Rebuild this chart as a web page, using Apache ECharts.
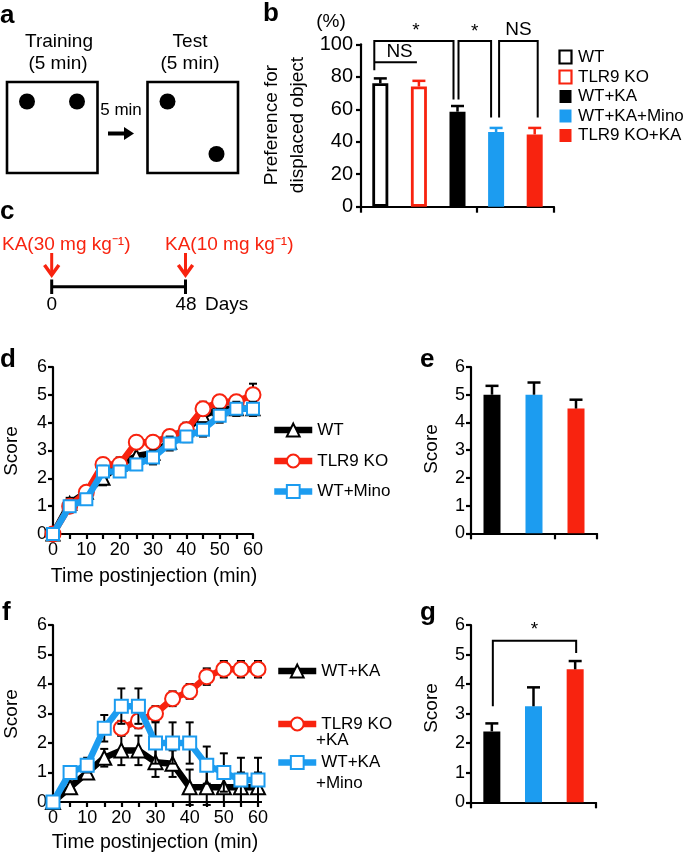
<!DOCTYPE html>
<html><head><meta charset="utf-8">
<script src="https://cdn.jsdelivr.net/npm/echarts@6/dist/echarts.min.js"></script>
<style>html,body{margin:0;padding:0;background:#fff}#c{width:685px;height:858px}</style>
</head><body><div id="c"></div>
<script>
const FONT = '"Liberation Sans", Arial, Helvetica, sans-serif';
const RED = '#f8230f', BLUE = '#1c9cf0', BLACK = '#000000';

// ---- Panel b
const bCategories = ['WT', 'TLR9 KO', 'WT+KA', 'WT+KA+Mino', 'TLR9 KO+KA'];
const bValues = [76, 74, 58.5, 46, 44.5];
const bErrors = [3, 3.5, 3.5, 2.5, 4];
const bTicks = [0, 20, 40, 60, 80, 100];

// ---- Panels d & f (time course)
const time = [0, 5, 10, 15, 20, 25, 30, 35, 40, 45, 50, 55, 60];
const timeTicks = [0, 10, 20, 30, 40, 50, 60];
const scoreTicks = [0, 1, 2, 3, 4, 5, 6];

const dWT = [0, 1.1, 1.5, 2.0, 2.5, 2.8, 2.9, 3.3, 3.75, 4.25, 4.5, 4.5, 4.5];
const dWTErr = [0, 0.2, 0.2, 0.25, 0.25, 0.25, 0.25, 0.25, 0.25, 0.3, 0.25, 0.25, 0.25];
const dKO = [0, 1.0, 1.5, 2.5, 2.5, 3.3, 3.3, 3.5, 3.75, 4.5, 4.75, 4.75, 5.0];
const dKOErr = [0, 0.2, 0.2, 0.2, 0.2, 0.2, 0.2, 0.2, 0.2, 0.25, 0.2, 0.2, 0.4];
const dMino = [0, 1.0, 1.25, 2.25, 2.25, 2.5, 2.75, 3.25, 3.5, 3.75, 4.25, 4.5, 4.5];
const dMinoErr = [0, 0.15, 0.15, 0.2, 0.2, 0.2, 0.25, 0.25, 0.2, 0.25, 0.25, 0.25, 0.25];

const fWTKA = [0, 0.5, 1.0, 1.5, 1.75, 1.75, 1.35, 1.3, 0.5, 0.5, 0.5, 0.5, 0.5];
const fWTKAErr = [0, 0.2, 0.2, 0.3, 0.5, 0.5, 0.5, 0.45, 0.6, 0.6, 0.5, 0.5, 0.5];
const fKOKA = [null, null, null, null, 2.5, 2.75, 3.0, 3.5, 3.75, 4.25, 4.5, 4.5, 4.5];
const fKOKAErr = [null, null, null, null, 0.25, 0.25, 0.25, 0.25, 0.25, 0.28, 0.28, 0.28, 0.28];
const fMino = [0, 1.0, 1.25, 2.5, 3.25, 3.25, 2.0, 2.0, 2.0, 1.25, 1.0, 0.75, 0.75];
const fMinoErr = [0, 0.2, 0.25, 0.45, 0.6, 0.6, 0.7, 0.7, 0.7, 0.63, 0.65, 0.75, 0.75];

// ---- Panel e
const eCategories = ['WT', 'WT+Mino', 'TLR9 KO'];
const eValues = [5.0, 5.0, 4.5];
const eErrors = [0.32, 0.44, 0.32];

// ---- Panel g
const gCategories = ['WT+KA', 'WT+KA+Mino', 'TLR9 KO+KA'];
const gValues = [2.4, 3.25, 4.5];
const gErrors = [0.27, 0.64, 0.28];

const chart = echarts.init(document.getElementById('c'), null, {renderer: 'canvas'});

function valAxis(gridIndex, ticks, fontSize, margin) {
  return {
    type: 'value', gridIndex: gridIndex,
    min: ticks[0], max: ticks[ticks.length - 1], interval: ticks[1] - ticks[0],
    axisLine: {show: true, onZero: false, lineStyle: {color: '#000', width: 2.2}},
    axisTick: {show: true, inside: false, length: 5, lineStyle: {color: '#000', width: 2.2}},
    axisLabel: {color: '#000', fontSize: fontSize, fontFamily: FONT, margin: margin},
    splitLine: {show: false}
  };
}
function timeAxis(gridIndex) {
  return {
    type: 'value', gridIndex: gridIndex,
    min: time[0], max: time[time.length - 1], interval: time[1] - time[0],
    axisLine: {show: true, onZero: false, lineStyle: {color: '#000', width: 2.2}},
    axisTick: {show: true, inside: false, length: 5, lineStyle: {color: '#000', width: 2.2}},
    axisLabel: {color: '#000', fontSize: 18, fontFamily: FONT, margin: 7,
      formatter: v => (timeTicks.indexOf(v) >= 0 ? String(v) : '')},
    splitLine: {show: false}
  };
}
function catAxis(gridIndex, cats) {
  return {
    type: 'category', gridIndex: gridIndex, data: cats,
    axisLine: {show: true, lineStyle: {color: '#000', width: 2.2}},
    axisTick: {show: true, inside: false, length: 6, alignWithLabel: false, lineStyle: {color: '#000', width: 2.2}},
    axisLabel: {show: false}, splitLine: {show: false}
  };
}

function errRender(colorFn, capW, lw, both) {
  return function (params, api) {
    const x = api.value(0), y = api.value(1), e = api.value(2);
    if (y == null || isNaN(y) || !e) return null;
    const top = api.coord([x, y + e]);
    const bot = both ? api.coord([x, y - e]) : api.coord([x, y]);
    const color = colorFn(params.dataIndex);
    const st = {stroke: color, lineWidth: lw};
    const ch = [
      {type: 'line', shape: {x1: top[0], y1: top[1], x2: bot[0], y2: bot[1]}, style: st},
      {type: 'line', shape: {x1: top[0] - capW / 2, y1: top[1], x2: top[0] + capW / 2, y2: top[1]}, style: st}
    ];
    if (both) ch.push({type: 'line', shape: {x1: bot[0] - capW / 2, y1: bot[1], x2: bot[0] + capW / 2, y2: bot[1]}, style: st});
    return {type: 'group', children: ch};
  };
}
function errData(xs, vals, errs) {
  return vals.map((v, i) => [xs[i], v, errs[i]]);
}
function lineSeries(name, gi, vals, color, symbol, size, z) {
  return {
    name: name, type: 'line', xAxisIndex: gi, yAxisIndex: gi,
    data: vals.map((v, i) => [time[i], v]),
    symbol: symbol, symbolSize: size, showSymbol: true, z: z,
    lineStyle: {color: color, width: 6.5},
    itemStyle: {color: '#fff', borderColor: color, borderWidth: 2, opacity: 1},
    connectNulls: false, clip: false, emphasis: {disabled: true}
  };
}
function errSeries(gi, vals, errs, color, z) {
  return {
    type: 'custom', xAxisIndex: gi, yAxisIndex: gi, z: z,
    data: errData(time, vals, errs),
    renderItem: errRender(() => color, 8, 2, true), silent: true
  };
}

const bStyles = [
  {color: '#fff', borderColor: BLACK, borderWidth: 2.8},
  {color: '#fff', borderColor: RED, borderWidth: 2.8},
  {color: BLACK},
  {color: BLUE},
  {color: RED}
];
const bErrColors = [BLACK, RED, BLACK, BLUE, RED];
const eColors = [BLACK, BLUE, RED];

function legend(name, left, cy, shownText) {
  return {
    data: [name], orient: 'vertical', left: left, top: cy - 8,
    itemWidth: 38, itemHeight: 16, selectedMode: false, padding: 0,
    formatter: () => shownText,
    lineStyle: {width: 6.5},
    textStyle: {color: '#000', fontSize: 17, fontFamily: FONT, lineHeight: 16}
  };
}

const T = (text, x, y, size, extra) => Object.assign({type: 'text', x: x, y: y,
  style: {text: text, font: size + 'px ' + FONT, fill: '#000', align: 'center', verticalAlign: 'middle'}}, extra || {});

const staticGraphics = [
  // panel labels
  {type: 'text', x: 0, y: 3, style: {text: 'a', font: 'bold 26px ' + FONT, fill: '#000'}},
  {type: 'text', x: 263, y: 1, style: {text: 'b', font: 'bold 26px ' + FONT, fill: '#000'}},
  {type: 'text', x: 0, y: 199, style: {text: 'c', font: 'bold 26px ' + FONT, fill: '#000'}},
  {type: 'text', x: 0, y: 347, style: {text: 'd', font: 'bold 26px ' + FONT, fill: '#000'}},
  {type: 'text', x: 420, y: 347, style: {text: 'e', font: 'bold 26px ' + FONT, fill: '#000'}},
  {type: 'text', x: 2, y: 600, style: {text: 'f', font: 'bold 26px ' + FONT, fill: '#000'}},
  {type: 'text', x: 420, y: 600, style: {text: 'g', font: 'bold 26px ' + FONT, fill: '#000'}},
  // panel a
  T('Training', 59, 42, 19), T('(5 min)', 58, 64, 19), T('Test', 190, 42, 19), T('(5 min)', 190, 64, 19),
  {type: 'rect', shape: {x: 7, y: 82, width: 90.5, height: 91}, style: {fill: 'none', stroke: '#000', lineWidth: 2.6}},
  {type: 'rect', shape: {x: 147.5, y: 82, width: 90.5, height: 91}, style: {fill: 'none', stroke: '#000', lineWidth: 2.6}},
  {type: 'circle', shape: {cx: 27, cy: 101.5, r: 8}, style: {fill: '#000'}},
  {type: 'circle', shape: {cx: 77, cy: 101.5, r: 8}, style: {fill: '#000'}},
  {type: 'circle', shape: {cx: 167.5, cy: 101.5, r: 8}, style: {fill: '#000'}},
  {type: 'circle', shape: {cx: 216.5, cy: 154, r: 8}, style: {fill: '#000'}},
  T('5 min', 121, 110, 17),
  {type: 'line', shape: {x1: 108, y1: 133.5, x2: 126, y2: 133.5}, style: {stroke: '#000', lineWidth: 4}},
  {type: 'polygon', shape: {points: [[124, 127], [134, 133.5], [124, 140]]}, style: {fill: '#000'}},
  // panel b texts
  T('(%)', 331, 22, 19),
  T('Preference for', 272, 125, 19, {rotation: Math.PI / 2}),
  T('displaced object', 298, 125, 19, {rotation: Math.PI / 2}),
  // panel c
  {type: 'text', x: 2, y: 245, style: {text: 'KA(30 mg kg\u207B\u00B9)', font: '19px ' + FONT, fill: RED, align: 'left', verticalAlign: 'middle'}},
  {type: 'text', x: 165, y: 245, style: {text: 'KA(10 mg kg\u207B\u00B9)', font: '19px ' + FONT, fill: RED, align: 'left', verticalAlign: 'middle'}},
  {type: 'line', shape: {x1: 51.7, y1: 253, x2: 51.7, y2: 273}, style: {stroke: RED, lineWidth: 3}},
  {type: 'polyline', shape: {points: [[44.5, 265], [51.7, 275], [58.9, 265]]}, style: {stroke: RED, lineWidth: 3.5, fill: 'none'}},
  {type: 'line', shape: {x1: 185.5, y1: 253, x2: 185.5, y2: 273}, style: {stroke: RED, lineWidth: 3}},
  {type: 'polyline', shape: {points: [[178.3, 265], [185.5, 275], [192.7, 265]]}, style: {stroke: RED, lineWidth: 3.5, fill: 'none'}},
  {type: 'line', shape: {x1: 51.7, y1: 286.7, x2: 185.5, y2: 286.7}, style: {stroke: '#000', lineWidth: 3}},
  {type: 'line', shape: {x1: 51.7, y1: 279.5, x2: 51.7, y2: 294}, style: {stroke: '#000', lineWidth: 3}},
  {type: 'line', shape: {x1: 185.5, y1: 279.5, x2: 185.5, y2: 294}, style: {stroke: '#000', lineWidth: 3}},
  T('0', 51.7, 305, 19), T('48', 186, 305, 19),
  {type: 'text', x: 205, y: 305, style: {text: 'Days', font: '19px ' + FONT, fill: '#000', align: 'left', verticalAlign: 'middle'}},
  // axis titles
  T('Score', 12, 451, 19, {rotation: Math.PI / 2}),
  T('Time postinjection (min)', 154, 577, 19.5),
  T('Score', 432, 449, 19, {rotation: Math.PI / 2}),
  T('Score', 12, 714, 19, {rotation: Math.PI / 2}),
  T('Time postinjection (min)', 155, 843, 19.5),
  T('Score', 432, 708, 19, {rotation: Math.PI / 2}),
  // f legend second lines
  {type: 'text', x: 316, y: 740, style: {text: '+KA', font: '17px ' + FONT, fill: '#000', align: 'left', verticalAlign: 'middle'}},
  {type: 'text', x: 316, y: 783, style: {text: '+Mino', font: '17px ' + FONT, fill: '#000', align: 'left', verticalAlign: 'middle'}}
];
// panel b legend
const bLegendY = [57, 77, 96.5, 116, 135.5];
bCategories.forEach((name, i) => {
  const s = bStyles[i];
  const filled = s.borderColor === undefined;
  staticGraphics.push({type: 'rect', shape: {x: 559.5, y: bLegendY[i] - 6.5, width: 12, height: 13},
    style: filled ? {fill: s.color} : {fill: '#fff', stroke: s.borderColor, lineWidth: 2.2}});
  staticGraphics.push({type: 'text', x: 578, y: bLegendY[i], style: {text: name, font: '17px ' + FONT,
    fill: '#000', align: 'left', verticalAlign: 'middle'}});
});

const option = {
  animation: false,
  textStyle: {fontFamily: FONT},
  grid: [
    {left: 361, top: 44.3, width: 193, height: 162.4},
    {left: 53, top: 367, width: 200, height: 167},
    {left: 471, top: 367, width: 126, height: 166.3},
    {left: 53, top: 625, width: 205, height: 177},
    {left: 471, top: 625, width: 125, height: 177.3}
  ],
  xAxis: [catAxis(0, bCategories), timeAxis(1), catAxis(2, eCategories), timeAxis(3), catAxis(4, gCategories)],
  yAxis: [valAxis(0, bTicks, 20, 8), valAxis(1, scoreTicks, 18, 6), valAxis(2, scoreTicks, 18, 6),
          valAxis(3, scoreTicks, 18, 6), valAxis(4, scoreTicks, 18, 6)],
  legend: [
    legend('WT', 271, 429.5, 'WT'),
    legend('TLR9 KO', 271, 460.5, 'TLR9 KO'),
    legend('WT+Mino', 271, 491, 'WT+Mino'),
    legend('WT+KA', 275, 670.5, 'WT+KA'),
    legend('TLR9 KO+KA', 275, 723.5, 'TLR9 KO'),
    legend('WT+KA+Mino', 275, 762, 'WT+KA')
  ],
  series: [
    // b
    {type: 'bar', xAxisIndex: 0, yAxisIndex: 0, barWidth: 16, z: 2,
     data: bValues.map((v, i) => ({value: v, itemStyle: bStyles[i]})), emphasis: {disabled: true}},
    {type: 'custom', xAxisIndex: 0, yAxisIndex: 0, z: 3, data: bValues.map((v, i) => [i, v, bErrors[i]]),
     renderItem: errRender(i => bErrColors[i], 13, 2.5, false)},
    // d
    errSeries(1, dWT, dWTErr, BLACK, 1),
    lineSeries('WT', 1, dWT, BLACK, 'triangle', 13, 2),
    errSeries(1, dKO, dKOErr, BLACK, 3),
    lineSeries('TLR9 KO', 1, dKO, RED, 'circle', 15, 4),
    errSeries(1, dMino, dMinoErr, BLACK, 5),
    lineSeries('WT+Mino', 1, dMino, BLUE, 'rect', 12, 6),
    // e
    {type: 'bar', xAxisIndex: 2, yAxisIndex: 2, barWidth: 17, z: 2,
     data: eValues.map((v, i) => ({value: v, itemStyle: {color: eColors[i]}})), emphasis: {disabled: true}},
    {type: 'custom', xAxisIndex: 2, yAxisIndex: 2, z: 3, data: eValues.map((v, i) => [i, v, eErrors[i]]),
     renderItem: errRender(() => BLACK, 13, 2.5, false)},
    // f
    errSeries(3, fWTKA, fWTKAErr, BLACK, 1),
    lineSeries('WT+KA', 3, fWTKA, BLACK, 'triangle', 14, 2),
    errSeries(3, fKOKA, fKOKAErr, BLACK, 3),
    lineSeries('TLR9 KO+KA', 3, fKOKA, RED, 'circle', 15, 4),
    errSeries(3, fMino, fMinoErr, BLACK, 5),
    lineSeries('WT+KA+Mino', 3, fMino, BLUE, 'rect', 13, 6),
    // g
    {type: 'bar', xAxisIndex: 4, yAxisIndex: 4, barWidth: 17, z: 2,
     data: gValues.map((v, i) => ({value: v, itemStyle: {color: eColors[i]}})), emphasis: {disabled: true}},
    {type: 'custom', xAxisIndex: 4, yAxisIndex: 4, z: 3, data: gValues.map((v, i) => [i, v, gErrors[i]]),
     renderItem: errRender(() => BLACK, 13, 2.5, false)}
  ],
  graphic: {elements: staticGraphics}
};
chart.setOption(option);

// significance brackets, positioned from data coordinates
function P(gi, x, y) { return chart.convertToPixel({gridIndex: gi}, [x, y]); }
const br = [];
function bracket(pts) {
  br.push({type: 'polyline', shape: {points: pts}, style: {stroke: '#000', lineWidth: 2, fill: 'none'}});
}
function label(t, x, y, size) {
  br.push(T(t, x, y, size));
}
{
  const top = P(0, 0, 102)[1];
  const wtX = P(0, 0, 0)[0] - 6;
  const kaX = P(0, 2, 0)[0];
  const minoX = P(0, 3, 0)[0];
  const koX = P(0, 4, 0)[0];
  const koCtrlX = P(0, 1, 0)[0];
  bracket([[wtX, P(0, 0, 84)[1]], [wtX, top], [kaX - 4, top], [kaX - 4, P(0, 2, 66)[1]]]);
  bracket([[wtX, P(0, 0, 89)[1]], [koCtrlX - 2, P(0, 0, 89)[1]]]);
  label('NS', (wtX + koCtrlX) / 2 + 3, P(0, 0, 95.5)[1], 19);
  label('*', (wtX + kaX) / 2, P(0, 0, 108.5)[1], 19);
  bracket([[kaX + 1, P(0, 2, 66)[1]], [kaX + 1, top], [minoX - 5, top], [minoX - 5, P(0, 3, 55)[1]]]);
  label('*', (kaX + minoX) / 2 - 2, P(0, 0, 107.5)[1], 19);
  bracket([[minoX + 3, P(0, 3, 55)[1]], [minoX + 3, top], [koX + 3, top], [koX + 3, P(0, 4, 55)[1]]]);
  label('NS', (minoX + koX) / 2 + 3, P(0, 0, 109)[1], 19);
}
{
  const top = P(4, 0, 5.47)[1];
  const x0 = P(4, 0, 0)[0] + 1;
  const x2 = P(4, 2, 0)[0] + 1;
  bracket([[x0, P(4, 0, 3.25)[1]], [x0, top], [x2, top], [x2, P(4, 2, 5.05)[1]]]);
  label('*', (x0 + x2) / 2, P(4, 0, 5.85)[1], 19);
}
chart.setOption({graphic: {elements: staticGraphics.concat(br)}});
</script>
</body></html>
